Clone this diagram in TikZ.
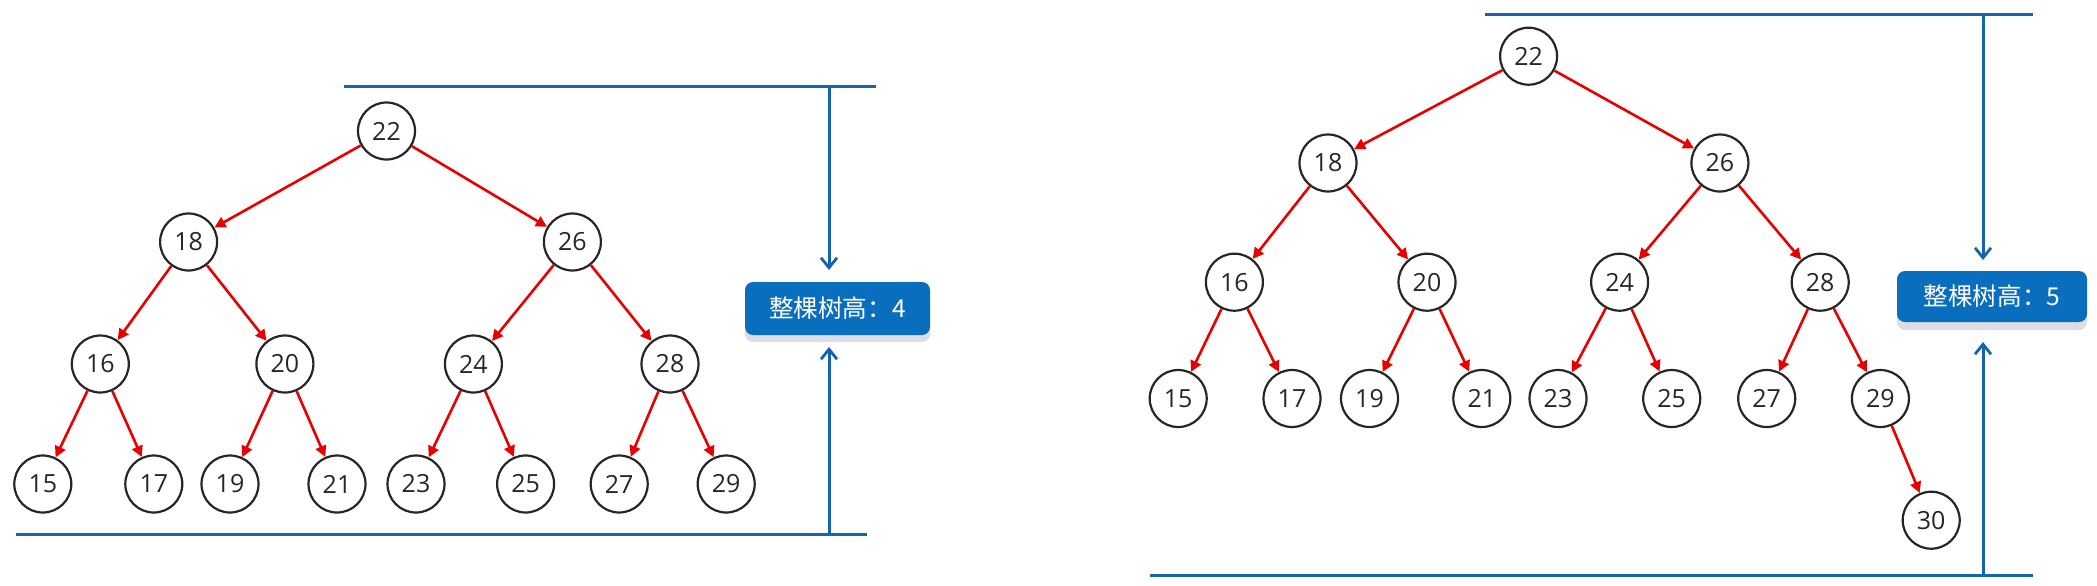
\documentclass[tikz,border=0pt]{standalone}
\usepackage{fontspec}
\setmainfont{Open Sans}
\newfontfamily\cjk{Noto Sans CJK SC}
\usetikzlibrary{arrows.meta}
\definecolor{edgered}{RGB}{232,0,0}
\definecolor{lineblue}{RGB}{20,100,175}
\definecolor{boxblue}{RGB}{10,110,190}
\definecolor{shadowgray}{RGB}{220,222,230}
\tikzset{
  tnode/.style={circle,draw=black!85,line width=1.1pt,minimum size=28.5pt,inner sep=0pt,font=\fontsize{12.5}{14}\selectfont,text=black!85},
  tedge/.style={edgered,line width=1.3pt,-{Triangle[length=5.5pt,width=5.5pt]}},
  hline/.style={lineblue,line width=1.5pt},
  harrow/.style={lineblue,line width=1.5pt,-{Straight Barb[length=5pt,width=8pt,line width=1.4pt]}},
  hbox/.style={fill=boxblue,rounded corners=4pt,text=white,font=\cjk\fontsize{12.3}{14}\selectfont,inner sep=0pt},
}
\begin{document}
\begin{tikzpicture}[x=0.5pt,y=-0.5pt]
\useasboundingbox (0,0) rectangle (2097,585);
% ---------- left tree ----------
\node[tnode] (a22) at (386.5,131) {22};
\node[tnode] (a18) at (188.6,242) {18};
\node[tnode] (a26) at (572.4,242) {26};
\node[tnode] (a16) at (100.3,364) {16};
\node[tnode] (a20) at (284.9,364) {20};
\node[tnode] (a24) at (473.4,364) {24};
\node[tnode] (a28) at (670,364) {28};
\node[tnode] (a15) at (42.8,484) {15};
\node[tnode] (a17) at (153.8,484) {17};
\node[tnode] (a19) at (230,484) {19};
\node[tnode] (a21) at (337,484) {21};
\node[tnode] (a23) at (416,484) {23};
\node[tnode] (a25) at (525.6,484) {25};
\node[tnode] (a27) at (619.2,484) {27};
\node[tnode] (a29) at (726.2,484) {29};
\draw[tedge] (a22) -- (a18);
\draw[tedge] (a22) -- (a26);
\draw[tedge] (a18) -- (a16);
\draw[tedge] (a18) -- (a20);
\draw[tedge] (a26) -- (a24);
\draw[tedge] (a26) -- (a28);
\draw[tedge] (a16) -- (a15);
\draw[tedge] (a16) -- (a17);
\draw[tedge] (a20) -- (a19);
\draw[tedge] (a20) -- (a21);
\draw[tedge] (a24) -- (a23);
\draw[tedge] (a24) -- (a25);
\draw[tedge] (a28) -- (a27);
\draw[tedge] (a28) -- (a29);
% height marker left
\coordinate (la) at (344,86.5);
\coordinate (lb) at (876,86.5);
\coordinate (lc) at (16,534);
\coordinate (ld) at (867,534);
\draw[hline] (la) -- (lb);
\draw[hline] (lc) -- (ld);
\fill[shadowgray,rounded corners=4pt] (745,292) rectangle (930,342);
\fill[boxblue,rounded corners=4pt] (745,282) rectangle (930,335);
\node[hbox] (lbox) at (837.5,308.5) {整棵树高：4};
\coordinate (lt) at (829,86.5);
\coordinate (lbt) at (829,534);
\coordinate (ltend) at (829,270);
\coordinate (lbend) at (829,347);
\draw[harrow] (lt) -- (ltend);
\draw[harrow] (lbt) -- (lbend);
% ---------- right tree ----------
\node[tnode] (b22) at (1528.6,56.2) {22};
\node[tnode] (b18) at (1328,163) {18};
\node[tnode] (b26) at (1719.9,163) {26};
\node[tnode] (b16) at (1234.4,282.2) {16};
\node[tnode] (b20) at (1427,282.2) {20};
\node[tnode] (b24) at (1619.6,282.2) {24};
\node[tnode] (b28) at (1820.2,282.2) {28};
\node[tnode] (b15) at (1178.2,398.5) {15};
\node[tnode] (b17) at (1292,398.5) {17};
\node[tnode] (b19) at (1369.5,398.5) {19};
\node[tnode] (b21) at (1481.8,398.5) {21};
\node[tnode] (b23) at (1558,398.5) {23};
\node[tnode] (b25) at (1671.7,398.5) {25};
\node[tnode] (b27) at (1766.7,398.5) {27};
\node[tnode] (b29) at (1880.4,398.5) {29};
\node[tnode] (b30) at (1931.2,520.2) {30};
\draw[tedge] (b22) -- (b18);
\draw[tedge] (b22) -- (b26);
\draw[tedge] (b18) -- (b16);
\draw[tedge] (b18) -- (b20);
\draw[tedge] (b26) -- (b24);
\draw[tedge] (b26) -- (b28);
\draw[tedge] (b16) -- (b15);
\draw[tedge] (b16) -- (b17);
\draw[tedge] (b20) -- (b19);
\draw[tedge] (b20) -- (b21);
\draw[tedge] (b24) -- (b23);
\draw[tedge] (b24) -- (b25);
\draw[tedge] (b28) -- (b27);
\draw[tedge] (b28) -- (b29);
\draw[tedge] (b29) -- (b30);
% height marker right
\coordinate (ra) at (1484.5,14.7);
\coordinate (rb) at (2033,14.7);
\coordinate (rc) at (1150,575);
\coordinate (rd) at (2033,575);
\draw[hline] (ra) -- (rb);
\draw[hline] (rc) -- (rd);
\fill[shadowgray,rounded corners=4pt] (1897,281) rectangle (2087,330);
\fill[boxblue,rounded corners=4pt] (1897,271) rectangle (2087,322);
\node[hbox] (rbox) at (1992,296.5) {整棵树高：5};
\coordinate (rt) at (1983,14.7);
\coordinate (rbt) at (1983,575);
\coordinate (rtend) at (1983,260);
\coordinate (rbend) at (1983,342);
\draw[harrow] (rt) -- (rtend);
\draw[harrow] (rbt) -- (rbend);
\end{tikzpicture}
\end{document}
